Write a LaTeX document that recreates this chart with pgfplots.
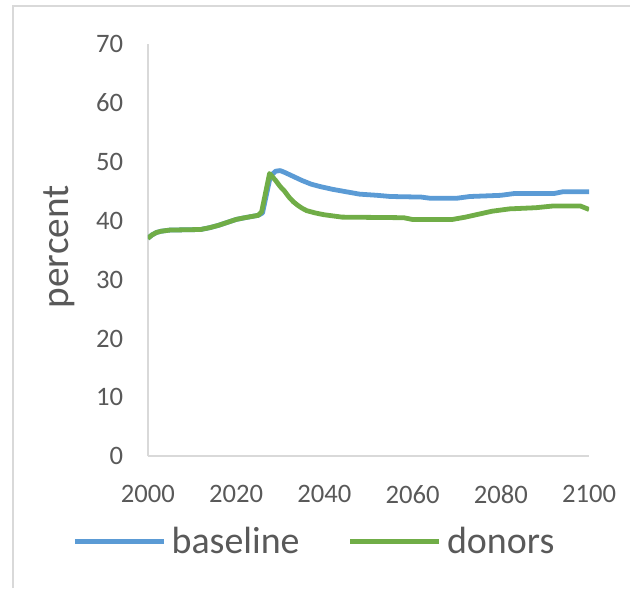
\documentclass[border=0pt]{standalone}
\usepackage{fontspec}
\setmainfont{Carlito}
\usepackage{pgfplots}
\pgfplotsset{compat=1.18}
\definecolor{bl}{HTML}{5B9BD5}
\definecolor{gr}{HTML}{70AD47}
\definecolor{tx}{HTML}{595959}
\definecolor{axc}{HTML}{D9D9D9}
\begin{document}
\begin{tikzpicture}
\path (0pt,0pt) rectangle (473.25pt,441.75pt);
\draw[axc, line width=1.5pt] (9.75pt,0pt) -- (9.75pt,437.25pt) -- (473.25pt,437.25pt);
\begin{axis}[
  at={(111pt,99pt)}, anchor=south west,
  scale only axis, width=331.5pt, height=309.75pt,
  xmin=2000, xmax=2100, ymin=0, ymax=70,
  xtick={2000,2020,...,2100}, ytick={0,10,...,70},
  axis x line*=bottom, axis y line*=left,
  axis line style={axc, line width=1.5pt, -},
  major tick length=0pt,
  /pgf/number format/assume math mode=true,
  /pgf/number format/1000 sep={},
  tick label style={font=\fontsize{20}{24}\selectfont, text=tx},
  yticklabel style={xshift=-15pt},
  xticklabel style={yshift=-18.5pt},
  ylabel={percent},
  ylabel style={at={(axis description cs:-0.2014,0.508)}, anchor=center, font=\fontsize{29.5}{34}\selectfont, text=tx},
  legend columns=2,
  legend style={at={(axis description cs:0.381,-0.206)}, anchor=center, draw=none, fill=none,
    font=\fontsize{28.5}{32}\selectfont, text=tx,
    /tikz/every even column/.append style={column sep=32pt},
    nodes={inner xsep=4pt}},
  legend image code/.code={\draw[#1, line width=4pt] (0pt,0pt) -- (66.75pt,0pt);},
]
\addplot[bl, line width=3.6pt, line join=round] coordinates {
(2000,37.0) (2001,37.6) (2002,38.0) (2003,38.2) (2005,38.4) (2012,38.5) (2014,38.8)
(2016,39.2) (2018,39.7) (2020,40.2) (2022,40.5) (2025,40.9) (2026,41.3) (2027.8,47.6)
(2029,48.4) (2030,48.5) (2031,48.2) (2033,47.5) (2035,46.8) (2037,46.2) (2039,45.8)
(2042,45.3) (2045,44.9) (2048,44.5) (2052,44.3) (2055,44.1) (2062,44.0) (2064,43.8)
(2070,43.8) (2073,44.1) (2080,44.3) (2083,44.6) (2092,44.6) (2094,44.9) (2100,44.9)
};
\addlegendentry{baseline}
\addplot[gr, line width=3.6pt, line join=round] coordinates {
(2000,37.0) (2001,37.6) (2002,38.0) (2003,38.2) (2005,38.4) (2012,38.5) (2014,38.8)
(2016,39.2) (2018,39.7) (2020,40.2) (2022,40.5) (2025,40.9) (2025.8,41.5) (2027.6,48.0)
(2029,46.8) (2030,45.8) (2031,45.0) (2032,44.0) (2033,43.2) (2034,42.6) (2035,42.1)
(2036,41.7) (2038,41.3) (2040,41.0) (2042,40.8) (2044,40.6) (2058,40.5) (2060,40.2)
(2069,40.2) (2072,40.6) (2075,41.1) (2078,41.6) (2082,42.0) (2088,42.2) (2092,42.5)
(2098,42.5) (2100,41.9)
};
\addlegendentry{donors}
\end{axis}
\end{tikzpicture}
\end{document}
